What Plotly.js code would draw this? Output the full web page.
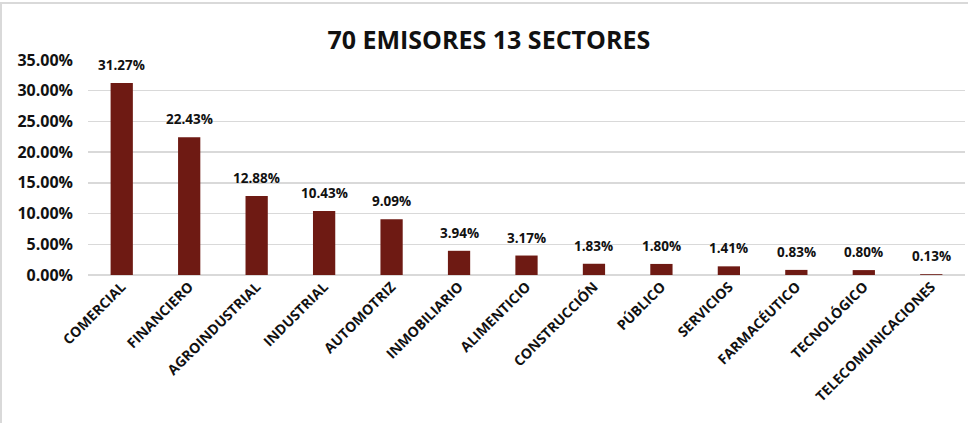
<!DOCTYPE html>
<html><head><meta charset="utf-8">
<script src="https://cdn.plot.ly/plotly-3.0.1.min.js"></script>
<style>body{margin:0;background:#fff;overflow:hidden}#frame{position:absolute;left:0;top:2px;width:972px;height:430px;border:2px solid #d9d9d9;box-sizing:border-box;pointer-events:none;z-index:5}</style>
</head><body>
<div id="chart" style="width:968px;height:423px"></div>
<div id="frame"></div>
<script>
const categories = ["COMERCIAL","FINANCIERO","AGROINDUSTRIAL","INDUSTRIAL","AUTOMOTRIZ","INMOBILIARIO","ALIMENTICIO","CONSTRUCCIÓN","PÚBLICO","SERVICIOS","FARMACÉUTICO","TECNOLÓGICO","TELECOMUNICACIONES"];
const shares = [31.27,22.43,12.88,10.43,9.09,3.94,3.17,1.83,1.80,1.41,0.83,0.80,0.13];
const yTicks = [0,5,10,15,20,25,30,35];
const yTickLabels = yTicks.map(v => v.toFixed(2) + "%");

const font = "Open Sans, Noto Sans, sans-serif";
const labels = categories.map((c, i) => ({
  x: c, y: shares[i], xref: "x", yref: "y",
  text: shares[i].toFixed(2) + "%", showarrow: false,
  yanchor: "bottom", yshift: 7,
  font: {family: font, size: 13.5, color: "#111", weight: 700}
}));
Plotly.newPlot("chart", [{
  type: "bar",
  x: categories,
  y: shares,
  width: 0.33,
  marker: {color: "#6E1A13"},
  hoverinfo: "skip"
}], {
  width: 968, height: 423,
  margin: {l: 88, r: 3, t: 60, b: 148},
  paper_bgcolor: "#fff", plot_bgcolor: "#fff",
  title: {text: "70 EMISORES 13 SECTORES", x: 0.505, xanchor: "center", y: 0.905, yanchor: "middle",
          font: {family: font, size: 25, color: "#111", weight: 700}},
  xaxis: {tickangle: -45, tickfont: {family: font, size: 14, color: "#111", weight: 700},
          showgrid: false, showline: false, ticks: "", automargin: false},
  yaxis: {range: [0, 35], tickvals: yTicks, ticktext: yTickLabels,
          tickfont: {family: font, size: 16, color: "#111", weight: 700},
          ticklabelstandoff: 14,
          gridcolor: "#d9d9d9", gridwidth: 1.5, zeroline: true, zerolinecolor: "#d9d9d9", zerolinewidth: 1.5,
          showline: false, ticks: "", automargin: false},
  annotations: labels,
  showlegend: false
}, {displayModeBar: false, staticPlot: true});
</script>
</body></html>
